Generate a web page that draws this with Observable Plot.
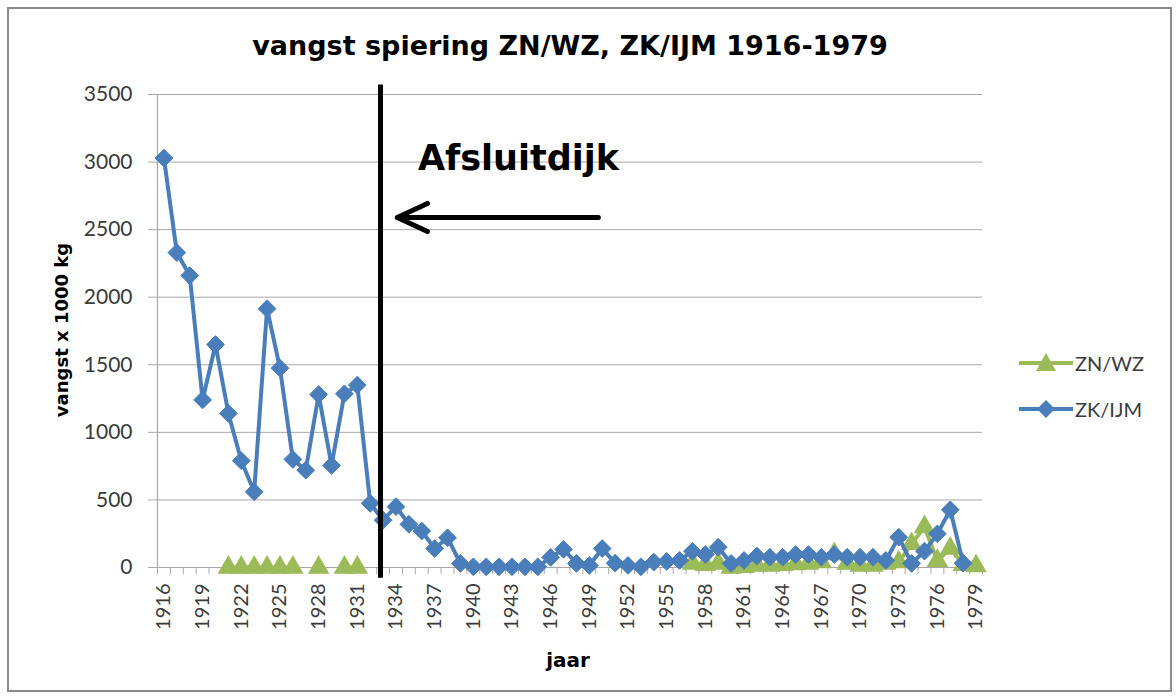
<!DOCTYPE html>
<html><head><meta charset="utf-8">
<script src="https://cdn.jsdelivr.net/npm/d3@7"></script>
<script src="https://cdn.jsdelivr.net/npm/@observablehq/plot@0.6"></script>
<style>
body{margin:0;background:#fff;}
#wrap{position:relative;width:1176px;height:699px;overflow:hidden;background:#fff;}
#frame{position:absolute;left:7px;top:7px;width:1165px;height:685px;border:2px solid #8a8a8a;box-sizing:border-box;}
#plot{position:absolute;left:0;top:0;}
.bold{font-family:"DejaVu Sans",Verdana,sans-serif;font-weight:bold;color:#000;line-height:1;white-space:nowrap;position:absolute;}
#title{font-size:27px;left:0;width:1140px;text-align:center;top:32px;}
#ytitle{font-size:18px;left:62px;top:330px;transform:translate(-50%,-50%) rotate(-90deg);}
#xtitle{font-size:20px;left:568px;top:650px;transform:translateX(-50%);}
.leg{position:absolute;left:1019px;height:24px;display:flex;align-items:center;font-family:Lato,sans-serif;font-size:20px;color:#3a3a3a;line-height:1;}
.leg svg{margin-right:2px;}
</style></head>
<body><div id="wrap"><div id="frame"></div><div id="plot"></div>
<div id="title" class="bold">vangst spiering ZN/WZ, ZK/IJM 1916-1979</div>
<div id="ytitle" class="bold">vangst x 1000 kg</div>
<div id="xtitle" class="bold">jaar</div>
<div class="leg" style="top:351px"><svg width="54" height="24"><line x1="0" y1="12" x2="54" y2="12" stroke="#9bbb59" stroke-width="4"/><path d="M27,2 L37,20 L17,20 Z" fill="#9bbb59"/></svg><span>ZN/WZ</span></div>
<div class="leg" style="top:397px"><svg width="54" height="24"><line x1="0" y1="12" x2="54" y2="12" stroke="#4a7ebb" stroke-width="4"/><path d="M27,3 L36,12 L27,21 L18,12 Z" fill="#4a7ebb"/></svg><span>ZK/IJM</span></div>
</div>
<script>
const years = d3.range(1916, 1980);
const zkIjm = [3030,2330,2160,1240,1650,1140,790,560,1915,1475,800,720,1280,755,1285,1350,
  475,350,450,320,270,140,220,30,5,5,5,5,5,5,75,135,30,15,140,32,15,5,40,45,
  52,120,96,150,30,52,85,76,76,96,96,76,96,76,76,76,52,224,30,121,249,427,32,null];
const znWz = [null,null,null,null,null,0,0,0,0,0,0,null,0,null,0,0,
  null,null,null,null,null,null,null,null,null,null,null,null,null,null,null,null,null,null,null,null,null,null,null,null,
  null,30,20,30,0,5,15,15,20,25,30,40,100,30,15,15,30,40,175,300,50,140,20,10];
const labelYears = years.filter(y => (y - 1916) % 3 === 0);
const yTicks = [0,500,1000,1500,2000,2500,3000,3500];
const seriesNames = ["ZN/WZ", "ZK/IJM"];
const colors = ["#9bbb59", "#4a7ebb"];
// annotation (Afsluitdijk, closed 1932)
const damYear = 1932.8, damTop = 3570, damBottom = -80;
const arrowFromYear = 1949.7, arrowToYear = 1934.1, arrowValue = 2590;
const labelYear = 1935.7, labelValue = 2938, labelText = "Afsluitdijk";

const green = years.map((x,i) => ({x, y: znWz[i]}));
const blue = years.map((x,i) => ({x, y: zkIjm[i]}));
const boundaries = years.map(y => y - 0.5).concat([years[years.length-1] + 0.5]);
const grey = "#a8a8a8";

const chart = Plot.plot({
  width: 1176, height: 699,
  marginLeft: 157, marginRight: 194, marginTop: 94, marginBottom: 132,
  style: {fontFamily: "Lato, sans-serif", color: "#3a3a3a", background: "transparent"},
  x: {domain: [1915.5, 1979.5]},
  y: {domain: [0, 3500]},
  marks: [
    Plot.gridY(yTicks, {stroke: grey, strokeOpacity: 1, strokeWidth: 1}),
    Plot.axisY(yTicks, {tickSize: 9, tickPadding: 16, stroke: grey, fontSize: 21, label: null, tickFormat: d => String(d)}),
    Plot.ruleX([1915.5], {stroke: grey, strokeWidth: 1.2}),
    Plot.axisX(boundaries, {tickSize: 7, stroke: grey, text: null, label: null}),
    Plot.axisX(labelYears, {tickSize: 0, tickPadding: 16, tickRotate: -90, fontSize: 20, label: null, tickFormat: d => String(d)}),
    Plot.ruleY([0], {stroke: grey, strokeWidth: 1.2}),
    Plot.line(green, {x: "x", y: "y", stroke: colors[0], strokeWidth: 4}),
    Plot.dot(green, {x: "x", y: "y", symbol: "triangle", r: 8, fill: colors[0], stroke: "none"}),
    Plot.line(blue, {x: "x", y: "y", stroke: colors[1], strokeWidth: 4}),
    Plot.dot(blue, {x: "x", y: "y", symbol: "diamond2", r: 8, fill: colors[1], stroke: colors[1], strokeWidth: 1}),
    Plot.ruleX([damYear], {y1: damBottom, y2: damTop, stroke: "#000", strokeWidth: 5}),
    Plot.arrow([0], {x1: arrowFromYear, x2: arrowToYear, y1: arrowValue, y2: arrowValue, stroke: "#000", strokeWidth: 5, headLength: 10, headAngle: 50}),
    Plot.text([labelText], {x: labelYear, y: labelValue, text: d => d, textAnchor: "start", lineAnchor: "bottom", fontSize: 35, fontWeight: "bold", fontFamily: "DejaVu Sans, Verdana, sans-serif", fill: "#000"})
  ]
});
document.getElementById("plot").appendChild(chart);
</script></body></html>
